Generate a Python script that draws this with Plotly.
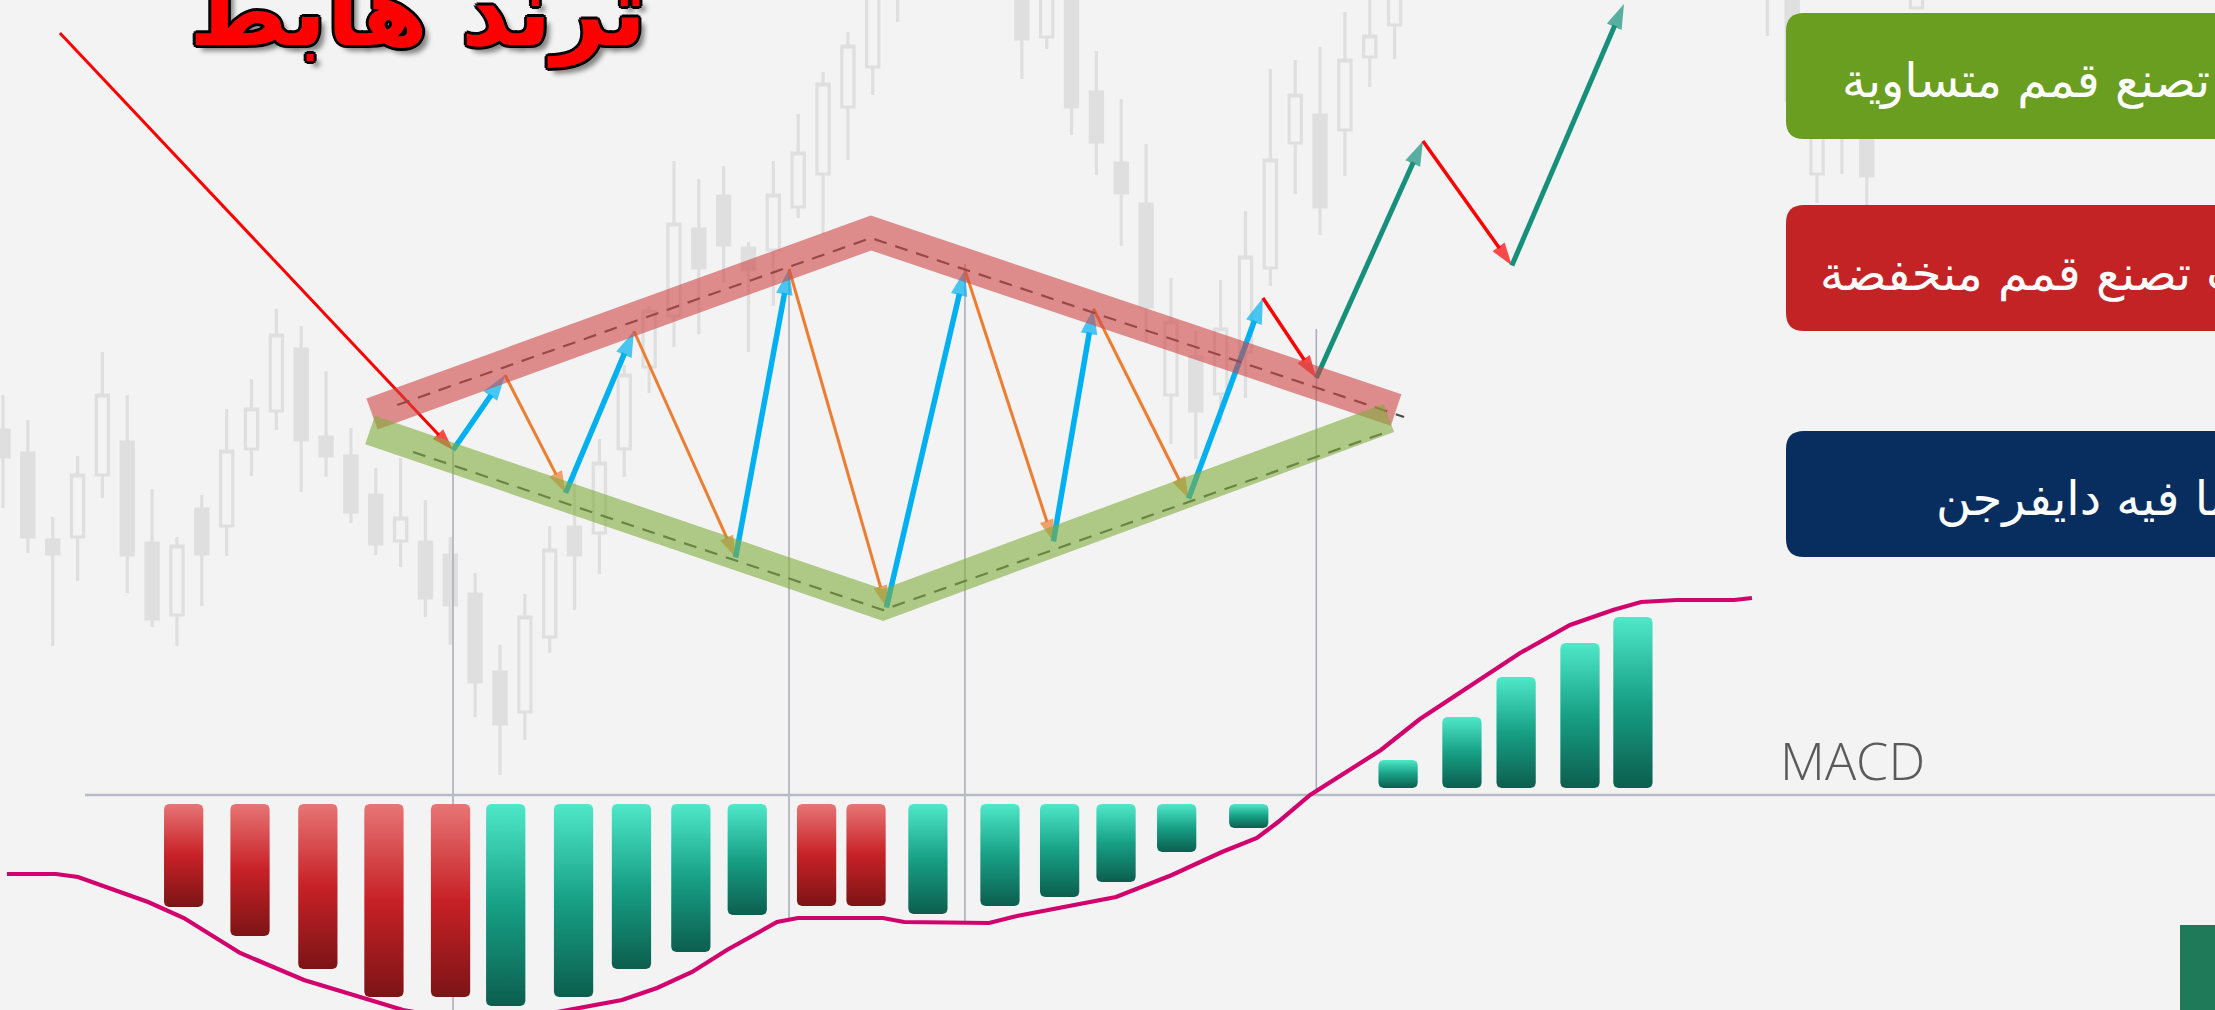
import numpy as np
import plotly.graph_objects as go

W, H = 2215, 1010
BG = "#f3f3f3"

# ---------------- data ----------------
# background candles (x = bar number, y = price)
candle_x = [0, 1, 2, 3, 4, 5, 6, 7, 8, 9, 10, 11, 12, 13, 14, 15, 16, 17, 18, 19, 20,
            21, 22, 23, 24, 25, 26, 27, 28, 29, 30, 31, 32, 33, 34, 35, 36,
            41, 42, 43, 44, 45, 46, 47, 48, 49, 50, 51, 52, 53, 54, 55, 56,
            71, 72, 73, 74, 75, 77]
candle_open = [58.0, 55.7, 47.0, 47.3, 53.5, 56.8, 46.7, 39.5, 50.1, 48.4, 56.1, 59.9, 66.1, 57.3, 55.4, 51.5, 46.9, 46.8, 45.5, 41.6, 33.8,
               29.8, 37.3, 48.3, 47.7, 56.1, 64.3, 69.4, 78.1, 81.4, 76.2, 76.0, 80.3, 83.6, 90.3, 94.3, 102.0,
               104.0, 97.3, 102.0, 91.8, 84.7, 80.6, 61.5, 65.3, 61.6, 65.8, 74.2, 86.7, 89.5, 88.0, 95.3, 98.5,
               106.0, 103.0, 83.6, 88.0, 90.0, 100.2]
candle_high = [61.5, 59.0, 49.3, 55.4, 65.8, 61.5, 52.1, 47.3, 51.5, 60.1, 63.1, 70.1, 68.4, 63.9, 58.2, 54.2, 55.2, 51.0, 47.3, 43.7, 36.5,
               41.6, 48.4, 54.3, 57.1, 64.5, 70.4, 84.9, 83.1, 84.4, 76.8, 84.9, 89.6, 93.8, 97.8, 105.0, 110.0,
               106.0, 106.0, 104.0, 95.9, 91.1, 86.6, 73.2, 67.9, 73.0, 79.9, 94.1, 95.0, 96.3, 99.8, 102.0, 105.0,
               108.0, 105.0, 93.0, 92.0, 93.0, 107.0]
candle_low = [50.2, 45.7, 36.4, 42.9, 51.2, 41.7, 38.3, 36.4, 40.4, 45.4, 53.4, 58.0, 51.8, 53.3, 48.7, 45.5, 44.3, 39.3, 36.5, 29.3, 23.5,
              27.0, 35.7, 40.0, 43.6, 53.3, 61.7, 66.3, 67.6, 72.7, 65.8, 70.4, 79.2, 77.6, 85.0, 91.5, 98.8,
              93.1, 96.1, 87.5, 83.5, 76.4, 66.8, 56.6, 55.1, 58.7, 61.2, 72.4, 81.6, 77.5, 83.4, 92.3, 95.1,
              97.4, 88.5, 80.7, 83.6, 80.5, 100.2]
candle_close = [55.3, 47.3, 45.6, 53.5, 61.5, 45.5, 39.1, 46.4, 45.6, 55.9, 60.1, 67.5, 57.0, 55.4, 49.8, 46.6, 49.2, 41.2, 40.5, 32.8, 28.6,
                39.3, 46.0, 45.5, 54.7, 63.5, 69.9, 78.6, 74.2, 76.5, 74.0, 81.5, 85.7, 92.6, 96.4, 103.0, 107.0,
                97.1, 104.0, 90.3, 86.8, 81.7, 70.3, 68.8, 59.9, 68.1, 75.3, 85.0, 91.5, 80.3, 95.0, 97.4, 103.0,
                102.0, 91.0, 89.0, 88.5, 83.4, 106.0]

# swing path inside the pattern (bar number, price)
lead_in_x = [2.29, 18.11]
lead_in_y = [97.7, 56.0]
swing_x = [18.11, 20.20, 22.64, 25.39, 29.48, 31.63, 35.55, 38.71, 42.27, 43.88, 47.71, 50.70]
swing_y = [56.0, 63.5, 51.7, 67.9, 45.25, 74.1, 40.25, 74.0, 46.85, 70.15, 51.15, 71.2]
breakout_x = [50.70, 52.85, 57.14, 60.72, 65.23]
breakout_y = [71.2, 63.2, 86.9, 74.45, 100.6]

# pattern boundary lines (bar number, price)
upper_band_x = [14.85, 34.93, 56.06]
upper_band_y = [59.6, 77.7, 60.0]
upper_dash_x = [15.86, 34.93, 56.38]
upper_dash_y = [60.5, 77.2, 59.3]
lower_band_x = [14.77, 35.41, 55.77]
lower_band_y = [58.0, 40.5, 59.2]
lower_dash_x = [16.50, 35.41, 55.57]
lower_dash_y = [55.8, 40.0, 57.7]

# vertical guide lines (bar number, top price)
guide_x = [18.11, 31.63, 38.71, 52.85]
guide_top = [56.0, 74.1, 74.6, 68.1]

# MACD histogram (bar number, value)
hist_x = [7.27, 9.94, 12.67, 15.33, 18.01, 20.23, 22.96, 25.29, 27.68, 29.95, 32.74, 34.73,
          37.22, 40.12, 42.52, 44.79, 47.23, 50.13, 56.14, 58.71, 60.89, 63.46, 65.59]
hist_val = [-1.12, -1.41, -1.74, -2.02, -2.02, -2.11, -2.02, -1.74, -1.57, -1.20, -1.11, -1.11,
            -1.19, -1.11, -1.02, -0.87, -0.57, -0.33, 0.35, 0.78, 1.18, 1.52, 1.78]
hist_red = [True, True, True, True, True, False, False, False, False, False, True, True,
            False, False, False, False, False, False, False, False, False, False, False]

# MACD line (bar number, value)
macd_x = [0.16, 2.13, 3.02, 5.27, 5.84, 7.28, 9.54, 12.11, 14.37, 16.10, 19.5, 22.62, 24.91, 26.32,
          27.73, 29.13, 31.15, 31.99, 35.41, 36.26, 39.68, 40.80, 44.79, 47.04, 49.05, 50.46, 51.31,
          52.60, 55.45, 57.02, 59.19, 61.05, 63.06, 64.79, 65.92, 67.36, 69.66, 70.38]
macd_y = [-0.79, -0.79, -0.82, -1.02, -1.07, -1.23, -1.58, -1.85, -2.02, -2.15, -2.30, -2.15, -2.05, -1.93,
          -1.77, -1.55, -1.27, -1.23, -1.23, -1.27, -1.28, -1.21, -1.02, -0.80, -0.57, -0.43, -0.27,
          0.0, 0.45, 0.76, 1.11, 1.42, 1.70, 1.85, 1.93, 1.95, 1.95, 1.97]

title_text = "ترند هابط"
box_texts = ["الأسعار تصنع قمم متساوية",
             "الأسعار بالغالب تصنع قمم منخفضة",
             "الماكد هنا ما فيه دايفرجن"]
box_colors = ["#6a9e21", "#c42326", "#072e5f"]

# ---------------- axes geometry ----------------
X_RANGE = [-0.1207, 89.014]
PRICE_RANGE = [0.0, 101.0]
MACD_RANGE = [-2.15, 7.95]
PX_PER_BAR = W / (X_RANGE[1] - X_RANGE[0])
PX_PER_MACD = H / (MACD_RANGE[1] - MACD_RANGE[0])


def macd_to_price(v):
    f = (np.asarray(v) - MACD_RANGE[0]) / (MACD_RANGE[1] - MACD_RANGE[0])
    return PRICE_RANGE[0] + f * (PRICE_RANGE[1] - PRICE_RANGE[0])


def px(xp):
    return xp / W


def py(yp):
    return 1 - yp / H


fig = go.Figure()

# candles
fig.add_trace(go.Candlestick(
    x=candle_x, open=candle_open, high=candle_high, low=candle_low, close=candle_close,
    increasing=dict(line=dict(color="#dfdfdf", width=3.2), fillcolor=BG),
    decreasing=dict(line=dict(color="#dfdfdf", width=3.2), fillcolor="#dfdfdf"),
    whiskerwidth=0, hoverinfo="skip", showlegend=False))

# vertical guides from swing points down to the MACD line
for gx, gt in zip(guide_x, guide_top):
    bottom = float(macd_to_price(np.interp(gx, macd_x, macd_y)))
    fig.add_trace(go.Scatter(x=[gx, gx], y=[gt, bottom], mode="lines",
                             line=dict(color="#a9afb9", width=1.6),
                             hoverinfo="skip", showlegend=False))


def arrow(xs, ys, color, width, head):
    fig.add_trace(go.Scatter(
        x=xs, y=ys, mode="lines+markers",
        line=dict(color=color, width=width),
        marker=dict(symbol="arrow", size=[0, head], angleref="previous",
                    color=color, line=dict(width=0)),
        hoverinfo="skip", showlegend=False))


arrow(lead_in_x, lead_in_y, "#ff0000", 3, 23)
for i in range(len(swing_x) - 1):
    up = swing_y[i + 1] > swing_y[i]
    arrow(swing_x[i:i + 2], swing_y[i:i + 2],
          "#00b0f0" if up else "#ed7d31", 5.5 if up else 3, 27 if up else 23)
for i in range(len(breakout_x) - 1):
    up = breakout_y[i + 1] > breakout_y[i]
    arrow(breakout_x[i:i + 2], breakout_y[i:i + 2],
          "#16907a" if up else "#ff0000", 5 if up else 3.5, 26 if up else 24)

# dashed trend lines, then translucent bands on top
for dx, dy in [(upper_dash_x, upper_dash_y), (lower_dash_x, lower_dash_y)]:
    fig.add_trace(go.Scatter(x=dx, y=dy, mode="lines",
                             line=dict(color="#4a4a4a", width=2.2, dash="13px,9px"),
                             hoverinfo="skip", showlegend=False))
fig.add_trace(go.Scatter(x=upper_band_x, y=upper_band_y, mode="lines",
                         line=dict(color="rgba(208,70,72,0.6)", width=33),
                         hoverinfo="skip", showlegend=False))
fig.add_trace(go.Scatter(x=lower_band_x, y=lower_band_y, mode="lines",
                         line=dict(color="rgba(128,173,61,0.6)", width=30),
                         hoverinfo="skip", showlegend=False))

# ---------------- MACD panel (overlay axis) ----------------
fig.add_trace(go.Scatter(x=[3.30, X_RANGE[1]], y=[0, 0], mode="lines", yaxis="y2",
                         line=dict(color="#b6bcc5", width=2.6),
                         hoverinfo="skip", showlegend=False))

BAR_W = 1.58
RX = 5 / PX_PER_BAR
RY = 5 / PX_PER_MACD
GAP_NEG = 0.09
GAP_POS = 0.07
RED_SCALE = [[0, "#7c1416"], [0.5, "#c72126"], [1, "#e77575"]]
TEAL_SCALE = [[0, "#0c5e4e"], [0.5, "#17a085"], [1, "#4fe8c9"]]


def rounded_bar(xc, y0, y1, n=6):
    hw = BAR_W / 2
    xs, ys = [], []
    corners = [(xc + hw - RX, y1 - RY, 0, 90), (xc - hw + RX, y1 - RY, 90, 180),
               (xc - hw + RX, y0 + RY, 180, 270), (xc + hw - RX, y0 + RY, 270, 360)]
    for cx, cy, a0, a1 in corners:
        for t in np.linspace(np.radians(a0), np.radians(a1), n):
            xs.append(cx + RX * np.cos(t))
            ys.append(cy + RY * np.sin(t))
    xs.append(xs[0])
    ys.append(ys[0])
    return xs, ys


for xc, v, red in zip(hist_x, hist_val, hist_red):
    if v < 0:
        y0, y1 = v, -GAP_NEG
    else:
        y0, y1 = GAP_POS, v
    bx, by = rounded_bar(xc, y0, y1)
    fig.add_trace(go.Scatter(
        x=bx, y=by, mode="lines", fill="toself", yaxis="y2",
        line=dict(width=0, color="rgba(0,0,0,0)"),
        fillgradient=dict(type="vertical", colorscale=RED_SCALE if red else TEAL_SCALE),
        hoverinfo="skip", showlegend=False))

fig.add_trace(go.Scatter(x=macd_x, y=macd_y, mode="lines", yaxis="y2",
                         line=dict(color="#d2006d", width=4.2),
                         hoverinfo="skip", showlegend=False))

# ---------------- layout decorations ----------------
shapes = []


def rounded_rect(x0, y0, x1, y1, r):
    pts = (f"M{px(x0 + r)},{py(y0)} L{px(x1)},{py(y0)} L{px(x1)},{py(y1)} "
           f"L{px(x0 + r)},{py(y1)} Q{px(x0)},{py(y1)} {px(x0)},{py(y1 - r)} "
           f"L{px(x0)},{py(y0 + r)} Q{px(x0)},{py(y0)} {px(x0 + r)},{py(y0)} Z")
    return pts


box_tops = [13, 205, 431]
box_h = 126
for top, col in zip(box_tops, box_colors):
    shapes.append(dict(type="path", xref="paper", yref="paper", layer="above",
                       path=rounded_rect(1786, top, 2260, top + box_h, 18),
                       fillcolor=col, line=dict(width=0)))

# logo fragment at bottom right
shapes.append(dict(type="rect", xref="paper", yref="paper", layer="below",
                   x0=px(2180), x1=px(2230), y0=py(1015), y1=py(925),
                   fillcolor="#1f7a5a", line=dict(width=0)))

annotations = []
outline = ("3px 0 0 #000, -3px 0 0 #000, 0 3px 0 #000, 0 -3px 0 #000, "
           "2px 2px 0 #000, -2px -2px 0 #000, 2px -2px 0 #000, -2px 2px 0 #000, "
           "6px 6px 5px rgba(0,0,0,0.45)")
annotations.append(dict(text=title_text, xref="paper", yref="paper",
                        x=px(187), y=py(70), xanchor="left", yanchor="bottom",
                        showarrow=False,
                        font=dict(family="DejaVu Sans", size=95, color="#ff0000",
                                  weight="bold", shadow=outline)))

text_lefts = [1840, 1818, 1934]
text_mid = [80, 272, 498]
for t, xl, ym in zip(box_texts, text_lefts, text_mid):
    annotations.append(dict(text=t, xref="paper", yref="paper", x=px(xl), y=py(ym),
                            xanchor="left", yanchor="middle", showarrow=False,
                            font=dict(family="DejaVu Sans", size=48, color="#ffffff")))

annotations.append(dict(text="MACD", xref="paper", yref="paper", x=px(1778), y=py(759),
                        xanchor="left", yanchor="middle", showarrow=False,
                        font=dict(family="Open Sans", size=52, color="#5a5a5a", weight=300)))

fig.update_layout(
    width=W, height=H, margin=dict(l=0, r=0, t=0, b=0),
    paper_bgcolor=BG, plot_bgcolor=BG, showlegend=False,
    xaxis=dict(range=X_RANGE, visible=False, rangeslider=dict(visible=False), fixedrange=True),
    yaxis=dict(range=PRICE_RANGE, visible=False, fixedrange=True),
    yaxis2=dict(range=MACD_RANGE, visible=False, overlaying="y", fixedrange=True),
    shapes=shapes, annotations=annotations,
)

fig.write_html("out.html", config={"displayModeBar": False, "staticPlot": True},
               post_script="document.body.style.margin='0';document.body.style.overflow='hidden';")
